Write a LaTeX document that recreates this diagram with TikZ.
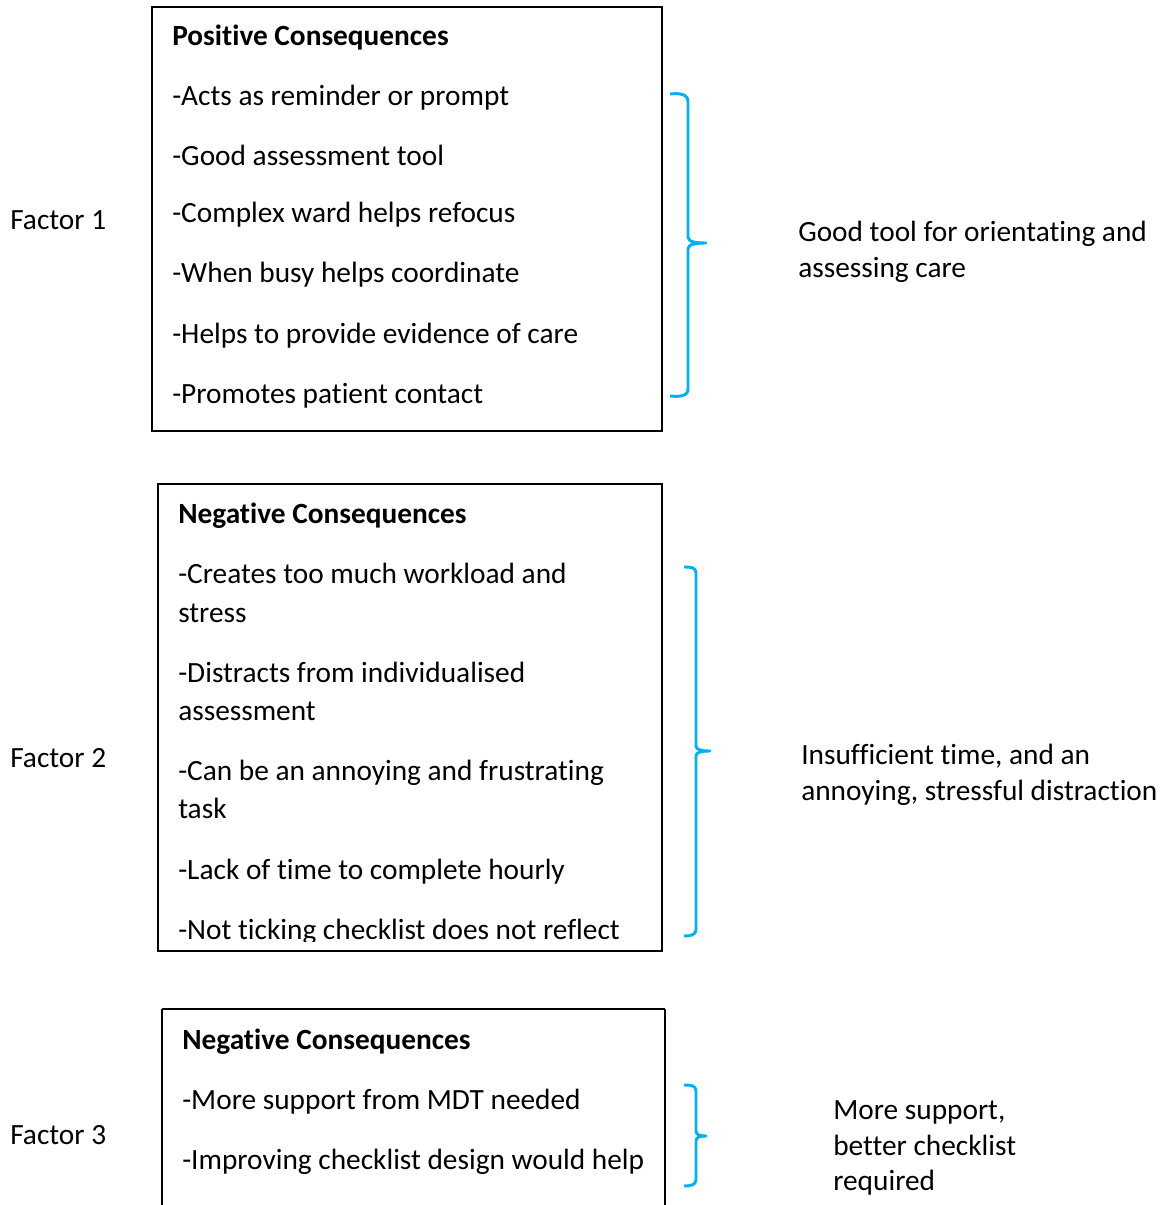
\documentclass[tikz,border=0pt]{standalone}
\usepackage{fontspec}
\setmainfont{Carlito}[RawFeature={-liga}]
\definecolor{bracecol}{RGB}{0,176,240}
\begin{document}
\begin{tikzpicture}[x=0.75pt,y=-0.75pt,
  txt/.style={anchor=base west, inner sep=0pt, font=\fontsize{22}{26}\selectfont},
  head/.style={txt, font=\fontsize{22}{26}\selectfont\bfseries},
  panel/.style={draw=black, line width=1.5pt},
  cbrace/.style={draw=bracecol, line width=2.2pt, line join=round}]
\useasboundingbox (0,0) rectangle (1169,1205);
\fill[white] (0,0) rectangle (1169,1205);

% ---- Factor 1 ----
\draw[panel] (152,7) rectangle (662,431);
\node[head] (h1) at (172,46) {Positive Consequences};
\node[txt] (p1) at (172,106) {-Acts as reminder or prompt};
\node[txt] (p2) at (172,166) {-Good assessment tool};
\node[txt] (p3) at (172,223) {-Complex ward helps refocus};
\node[txt] (p4) at (172,283) {-When busy helps coordinate};
\node[txt] (p5) at (172,343) {-Helps to provide evidence of care};
\node[txt] (p6) at (172,403) {-Promotes patient contact};
\node[txt] (f1) at (10,230) {Factor 1};
\draw[cbrace] (670,94) .. controls (680,93) and (688,94) .. (688,102) -- (688,237)
  .. controls (688,242) and (696,243) .. (706,243)
  .. controls (696,243) and (688,244) .. (688,249) -- (688,389)
  .. controls (688,396) and (680,397) .. (670,396);
\node[txt] (s1a) at (798,242) {Good tool for orientating and};
\node[txt] (s1b) at (798,278) {assessing care};

% ---- Factor 2 ----
\node[head] (h2) at (178,523) {Negative Consequences};
\node[txt] (n1a) at (178,583) {-Creates too much workload and};
\node[txt] (n1b) at (178,622) {stress};
\node[txt] (n2a) at (178,682) {-Distracts from individualised};
\node[txt] (n2b) at (178,720) {assessment};
\node[txt] (n3a) at (178,780) {-Can be an annoying and frustrating};
\node[txt] (n3b) at (178,818) {task};
\node[txt] (n4) at (178,879) {-Lack of time to complete hourly};
\begin{scope}
  \clip (158,900) rectangle (662,941);
  \node[txt] (n5) at (178,939) {-Not ticking checklist does not reflect};
\end{scope}
\draw[panel] (158,484) rectangle (662,951);
\node[txt] (f2) at (10,767) {Factor 2};
\draw[cbrace] (684,567) .. controls (690,567) and (696,567) .. (696,573) -- (696,746)
  .. controls (696,750) and (702,751) .. (710,751)
  .. controls (702,751) and (696,752) .. (696,756) -- (696,930)
  .. controls (696,935) and (690,936) .. (684,936);
\node[txt] (s2a) at (801,764) {Insufficient time, and an};
\node[txt] (s2b) at (801,800) {annoying, stressful distraction};

% ---- Factor 3 ----
\draw[panel] (162,1009) -- (162,1220) (665,1009) -- (665,1220) (162,1009) -- (665,1009);
\node[head] (h3) at (182,1049) {Negative Consequences};
\node[txt] (m1) at (182,1109) {-More support from MDT needed};
\node[txt] (m2) at (182,1169) {-Improving checklist design would help};
\node[txt] (f3) at (10,1144) {Factor 3};
\draw[cbrace] (684,1085) .. controls (690,1085) and (696,1085) .. (696,1091) -- (696,1131)
  .. controls (696,1135) and (700,1136) .. (706,1136)
  .. controls (700,1136) and (696,1137) .. (696,1141) -- (696,1180)
  .. controls (696,1185) and (690,1186) .. (684,1186);
\node[txt] (s3a) at (833,1119) {More support,};
\node[txt] (s3b) at (833,1155) {better checklist};
\node[txt] (s3c) at (833,1190) {required};
\end{tikzpicture}
\end{document}
